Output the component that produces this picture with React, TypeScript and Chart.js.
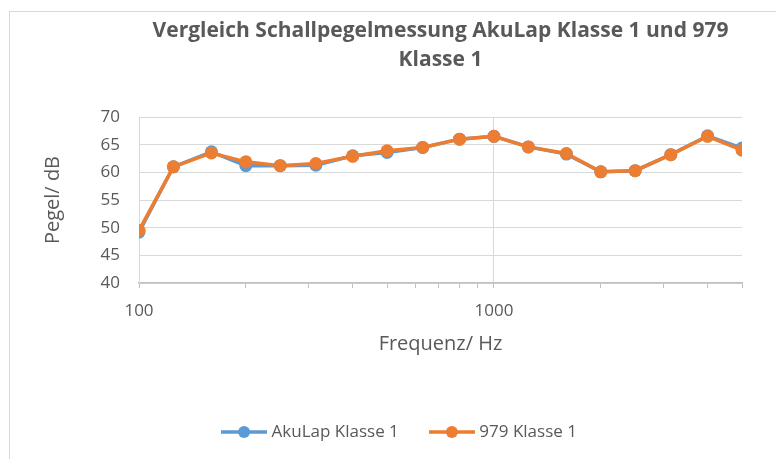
import React, { useEffect, useRef } from 'react';
import { Chart, registerables } from 'chart.js';

Chart.register(...registerables);

const FREQS = [100, 125, 160, 200, 250, 315, 400, 500, 630, 800, 1000, 1250, 1600, 2000, 2500, 3150, 4000, 5000];
const AKULAP = [49.2, 61.0, 63.7, 61.2, 61.2, 61.3, 63.0, 63.6, 64.5, 66.0, 66.5, 64.6, 63.3, 60.1, 60.3, 63.2, 66.6, 64.4];
const K979 = [49.5, 61.0, 63.5, 61.9, 61.2, 61.6, 62.9, 63.9, 64.5, 66.0, 66.5, 64.6, 63.4, 60.1, 60.3, 63.2, 66.5, 64.0];
const X_TICKS = [100, 200, 300, 400, 500, 600, 700, 800, 900, 1000, 2000, 3000, 4000, 5000];
const X_LABELED = [100, 1000];
const Y_TICKS = [40, 45, 50, 55, 60, 65, 70];
const TITLE_LINES = ['Vergleich Schallpegelmessung AkuLap Klasse 1 und 979', 'Klasse 1'];
const SERIES_NAMES = ['AkuLap Klasse 1', '979 Klasse 1'];
const COLORS = ['#5B9BD5', '#ED7D31'];
const X_TITLE = 'Frequenz/ Hz';
const Y_TITLE = 'Pegel/ dB';

const TEXT = '#595959';
const FONT = "'Open Sans', 'DejaVu Sans', sans-serif";

function legendIcon(color: string) {
  const c = document.createElement('canvas');
  c.width = 46;
  c.height = 14;
  const ctx = c.getContext('2d')!;
  ctx.strokeStyle = color;
  ctx.lineWidth = 3.5;
  ctx.beginPath();
  ctx.moveTo(0, 7);
  ctx.lineTo(46, 7);
  ctx.stroke();
  ctx.fillStyle = color;
  ctx.beginPath();
  ctx.arc(23, 7, 6, 0, Math.PI * 2);
  ctx.fill();
  return c;
}

const framePlugin = {
  id: 'frame',
  beforeDraw(chart: any) {
    const ctx = chart.ctx;
    ctx.save();
    ctx.fillStyle = '#ffffff';
    ctx.fillRect(0, 0, chart.width, chart.height);
    ctx.strokeStyle = '#d9d9d9';
    ctx.lineWidth = 1;
    ctx.strokeRect(9.5, 11.5, chart.width + 40, chart.height + 40);
    ctx.restore();
  },
};

export default function App() {
  const ref = useRef<HTMLCanvasElement | null>(null);

  useEffect(() => {
    const canvas = ref.current;
    if (!canvas) return;
    const icons = COLORS.map((c) => legendIcon(c));
    const series = [AKULAP, K979];
    const chart = new Chart(canvas, {
      type: 'line',
      data: {
        datasets: series.map((vals, i) => ({
          label: SERIES_NAMES[i],
          data: FREQS.map((f, j) => ({ x: f, y: vals[j] })),
          borderColor: COLORS[i],
          backgroundColor: COLORS[i],
          pointBackgroundColor: COLORS[i],
          pointBorderColor: COLORS[i],
          pointBorderWidth: 0,
          pointRadius: 6.5,
          borderWidth: 3.5,
          tension: 0,
          order: i === 0 ? 1 : 0,
        })),
      },
      options: {
        responsive: false,
        animation: false,
        devicePixelRatio: 1,
        layout: { padding: { top: 11, left: 26, right: 0, bottom: 8.5 } },
        plugins: {
          tooltip: { enabled: false },
          title: {
            display: true,
            fullSize: false,
            text: TITLE_LINES,
            color: TEXT,
            font: { family: FONT, size: 21, weight: 'bold', lineHeight: 29 / 21 },
            padding: { top: 6, bottom: 42 },
          },
          legend: {
            display: true,
            position: 'bottom',
            labels: {
              usePointStyle: true,
              pointStyleWidth: 38,
              padding: 34,
              color: TEXT,
              font: { family: FONT, size: 17 },
              sort: (a: any, b: any) => a.datasetIndex - b.datasetIndex,
              generateLabels: (ch: any) => {
                const items = (Chart.defaults.plugins.legend.labels as any).generateLabels(ch);
                return items.map((it: any) => ({ ...it, pointStyle: icons[it.datasetIndex], fontColor: TEXT }));
              },
            },
          },
        },
        scales: {
          x: {
            type: 'logarithmic',
            min: 100,
            max: 5000,
            afterBuildTicks: (s: any) => {
              s.ticks = X_TICKS.map((v) => ({ value: v }));
            },
            afterFit: (s: any) => {
              s.height = 106.5;
            },
            ticks: {
              autoSkip: false,
              maxRotation: 0,
              minRotation: 0,
              padding: 13,
              color: TEXT,
              font: { family: FONT, size: 17 },
              callback: (v: any) => (X_LABELED.includes(Number(v)) ? String(v) : ''),
            },
            grid: {
              color: (c: any) => (c.tick && X_LABELED.includes(c.tick.value) ? '#d9d9d9' : 'rgba(0,0,0,0)'),
              tickColor: '#bfbfbf',
              tickLength: 5,
              lineWidth: 1,
            },
            border: { color: '#bfbfbf', width: 1.5 },
            title: {
              display: true,
              text: X_TITLE,
              color: TEXT,
              font: { family: FONT, size: 20 },
              padding: { top: 0, bottom: 33.5 },
            },
          },
          y: {
            type: 'linear',
            min: Y_TICKS[0],
            max: Y_TICKS[Y_TICKS.length - 1],
            afterBuildTicks: (s: any) => {
              s.ticks = Y_TICKS.map((v) => ({ value: v }));
            },
            afterFit: (s: any) => {
              s.width = 113;
            },
            ticks: {
              padding: 19,
              color: TEXT,
              font: { family: FONT, size: 17 },
            },
            grid: { color: '#d9d9d9', drawTicks: false, lineWidth: 1 },
            border: { display: true, color: '#d9d9d9', width: 1 },
            title: {
              display: true,
              text: Y_TITLE,
              color: TEXT,
              font: { family: FONT, size: 20 },
              padding: { top: 15, bottom: 0 },
            },
          },
          yR: {
            type: 'linear',
            position: 'right',
            display: true,
            afterFit: (s: any) => {
              s.width = 34;
            },
            ticks: { display: false },
            grid: { display: false },
            border: { display: false },
          },
        },
      },
      plugins: [framePlugin],
    } as any);
    return () => chart.destroy();
  }, []);

  return (
    <div style={{ position: 'fixed', left: 0, top: 0, width: 776, height: 459, background: '#fff' }}>
      <canvas ref={ref} width={776} height={459} style={{ display: 'block' }} />
    </div>
  );
}
